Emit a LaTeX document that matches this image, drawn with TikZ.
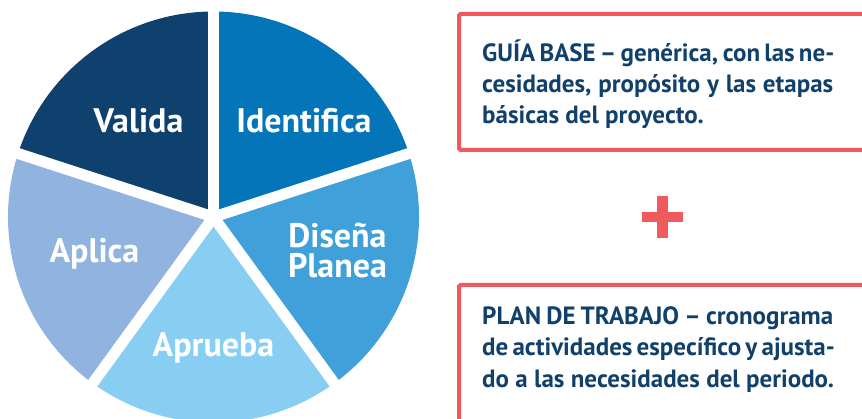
\documentclass[tikz,border=0pt]{standalone}
\usepackage{fontspec}
\setmainfont{PT Sans}
\newfontfamily\pielabel{PT Sans}
\newfontfamily\boxfont{PT Sans}
\definecolor{cValida}{HTML}{0F416E}
\definecolor{cIdent}{HTML}{0575BA}
\definecolor{cDisena}{HTML}{3FA0DA}
\definecolor{cAprueba}{HTML}{88CEF3}
\definecolor{cAplica}{HTML}{90B3E0}
\definecolor{cRed}{HTML}{EE5A5E}
\definecolor{cNavy}{HTML}{11416B}
\tikzset{
  x=1pt,y=1pt,
  slicelabel/.style={text=white,font=\pielabel\bfseries\fontsize{34}{30}\selectfont,inner sep=0pt,anchor=base},
  gap/.style={draw=white,line width=11pt},
  redbox/.style={draw=cRed,line width=4pt,rounded corners=1.5pt},
  boxline/.style={text=cNavy,font=\boxfont\bfseries\fontsize{25}{30}\selectfont,inner sep=0pt,anchor=base west},
}
\begin{document}
\begin{tikzpicture}
\useasboundingbox (0,0) rectangle (862,419);
\clip (0,0) rectangle (862,419);
\coordinate (c) at (213.5,202);
\def\R{205.5}
\fill[cIdent]   (c) -- ++(90:\R) arc (90:18:\R) -- cycle;
\fill[cDisena]  (c) -- ++(18:\R) arc (18:-54:\R) -- cycle;
\fill[cAprueba] (c) -- ++(-54:\R) arc (-54:-126:\R) -- cycle;
\fill[cAplica]  (c) -- ++(-126:\R) arc (-126:-198:\R) -- cycle;
\fill[cValida]  (c) -- ++(162:\R) arc (162:90:\R) -- cycle;
\foreach \a in {90,18,-54,-126,162} \draw[gap] (c) -- ++(\a:\R+6);
\node[slicelabel] (valida) at (138.5,286) {Valida};
\node[slicelabel] (ident) at (304,286) {Identifica};
\node[slicelabel,align=center] (disena) at (337.5,141) {Diseña\\Planea};
\node[slicelabel] (aplica) at (94.5,156) {Aplica};
\node[slicelabel] (aprueba) at (213.5,62) {Aprueba};
% boxes
\draw[redbox] (459,405) rectangle (875,269);
\draw[redbox] (459,134) rectangle (875,-20);
\node[boxline] (g1) at (482,357) {\makebox[351pt][s]{GUÍA BASE – genérica, con las ne-}};
\node[boxline] (g2) at (482,326) {\makebox[351pt][s]{cesidades, propósito y las etapas}};
\node[boxline] (g3) at (482,295) {básicas del proyecto.};
\node[boxline] (p1) at (482,94) {\makebox[351pt][s]{PLAN DE TRABAJO – cronograma}};
\node[boxline] (p2) at (482,63) {\makebox[351pt][s]{de actividades específico y ajusta-}};
\node[boxline] (p3) at (482,31) {do a las necesidades del periodo.};
% plus
\fill[cRed] (642,197) rectangle (683,207);
\fill[cRed] (657,181) rectangle (668,223);
\end{tikzpicture}
\end{document}
